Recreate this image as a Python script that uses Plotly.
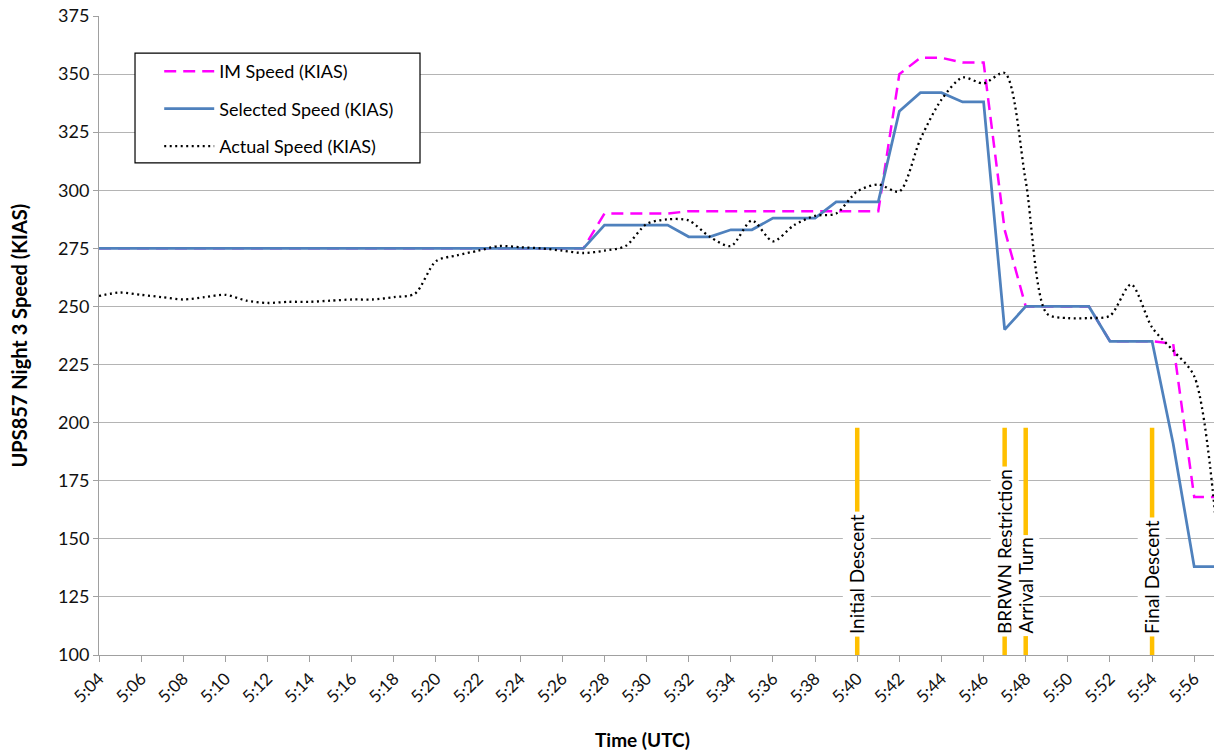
import pandas as pd
import plotly.graph_objects as go

# Time stamps (UTC), one sample per minute
times = ["5:04", "5:05", "5:06", "5:07", "5:08", "5:09", "5:10", "5:11", "5:12", "5:13",
         "5:14", "5:15", "5:16", "5:17", "5:18", "5:19", "5:20", "5:21", "5:22", "5:23",
         "5:24", "5:25", "5:26", "5:27", "5:28", "5:29", "5:30", "5:31", "5:32", "5:33",
         "5:34", "5:35", "5:36", "5:37", "5:38", "5:39", "5:40", "5:41", "5:42", "5:43",
         "5:44", "5:45", "5:46", "5:47", "5:48", "5:49", "5:50", "5:51", "5:52", "5:53",
         "5:54", "5:55", "5:56", "5:57"]

im_speed = [275] * 24 + [290, 290, 290, 290, 291, 291, 291, 291, 291, 291,
                         291, 291, 291, 291, 350, 357, 357, 355, 355, 283,
                         250, 250, 250, 250, 235, 235, 235, 234, 168, 168]

selected_speed = [275] * 24 + [285, 285, 285, 285, 280, 280, 283, 283, 288, 288,
                               288, 295, 295, 295, 334, 342, 342, 338, 338, 240,
                               250, 250, 250, 250, 235, 235, 235, 191, 138, 138]

actual_speed = [254.5, 256, 255, 254, 253, 254, 255, 252.5, 251.5, 252,
                252, 252.5, 253, 253, 254, 255.5, 269.5, 272, 274, 276,
                275.5, 275, 274, 273, 274, 276, 285.5, 287.5, 287, 280,
                276, 287, 278, 285, 289, 290, 299.5, 302.5, 299.5, 322,
                339, 348.5, 346, 350.5, 304, 247, 245, 245, 246, 259.5,
                241, 231, 220, 160]

# Flight phase markers
event_times = ["5:40", "5:47", "5:48", "5:54"]
event_labels = ["Initial Descent", "BRRWN Restriction", "Arrival Turn", "Final Descent"]
marker_low, marker_high = 99, 197.8
label_base = 107.8


def to_dt(t):
    return pd.Timestamp("2000-01-01 0" + t)


x = [to_dt(t) for t in times]
FONT = "Lato, 'Open Sans', sans-serif"

fig = go.Figure()

fig.add_trace(go.Scatter(
    x=x, y=im_speed, name="IM Speed (KIAS)", mode="lines", legendgroup="a",
    line=dict(color="#ff00ff", width=2.5, dash="12px,7px")))
fig.add_trace(go.Scatter(
    x=x, y=selected_speed, name="Selected Speed (KIAS)", mode="lines", legendgroup="b",
    line=dict(color="#4f81bd", width=2.75)))
fig.add_trace(go.Scatter(
    x=x, y=actual_speed, name="Actual Speed (KIAS)", mode="lines", legendgroup="c",
    line=dict(color="#000000", width=2.3, dash="2px,3.5px", shape="spline", smoothing=0.8)))

for t in event_times:
    fig.add_trace(go.Scatter(
        x=[to_dt(t), to_dt(t)], y=[marker_low, marker_high], mode="lines",
        showlegend=False, hoverinfo="skip",
        line=dict(color="#ffc000", width=4.5)))

annotations = []
for t, lab in zip(event_times, event_labels):
    annotations.append(dict(
        x=to_dt(t), y=label_base, xref="x", yref="y", text=lab, showarrow=False,
        textangle=-90, xanchor="center", yanchor="bottom",
        bgcolor="white", borderpad=2,
        font=dict(family=FONT, size=19, color="#000")))

annotations.append(dict(
    x=-0.0726, y=0.5, xref="paper", yref="paper", text="<b>UPS857 Night 3 Speed (KIAS)</b>",
    showarrow=False, textangle=-90, xanchor="center", yanchor="middle",
    font=dict(family=FONT, size=20, color="#000")))
annotations.append(dict(
    x=0.487, y=-0.133, xref="paper", yref="paper", text="<b>Time (UTC)</b>",
    showarrow=False, xanchor="center", yanchor="middle",
    font=dict(family=FONT, size=19, color="#000")))

x_start = to_dt("5:04")
x_end = x_start + pd.Timedelta(minutes=52.94)

fig.update_layout(
    width=1214, height=753,
    margin=dict(l=99, r=0, t=16, b=98),
    plot_bgcolor="white", paper_bgcolor="white",
    font=dict(family=FONT, size=17, color="#111"),
    annotations=annotations,
    showlegend=True,
    legend=dict(
        x=0.054, y=0.942, xanchor="left", yanchor="top",
        bgcolor="rgba(0,0,0,0)", borderwidth=0,
        font=dict(family=FONT, size=18, color="#000"),
        tracegroupgap=11, traceorder="grouped", itemwidth=50),
    shapes=[dict(
        type="rect", xref="paper", yref="paper",
        x0=0.0323, x1=0.2879, y0=0.770, y1=0.942,
        line=dict(color="#000", width=1.2), fillcolor="white", layer="above")],
    xaxis=dict(
        type="date", range=[x_start, x_end],
        tick0=x_start, dtick=120000, tickformat="%-H:%M", tickangle=-45,
        showgrid=False, showline=True, linecolor="#a0a0a0", linewidth=1,
        ticks="outside", ticklen=6, tickcolor="#a0a0a0",
        tickfont=dict(family=FONT, size=17, color="#111"), zeroline=False),
    yaxis=dict(
        range=[100, 375], tick0=100, dtick=25,
        showgrid=True, gridcolor="#b4b4b4", gridwidth=1,
        showline=True, linecolor="#a0a0a0", linewidth=1,
        ticks="outside", ticklen=5, tickcolor="#a0a0a0",
        tickfont=dict(family=FONT, size=18, color="#111"), zeroline=False),
)

fig.write_html("out.html")
